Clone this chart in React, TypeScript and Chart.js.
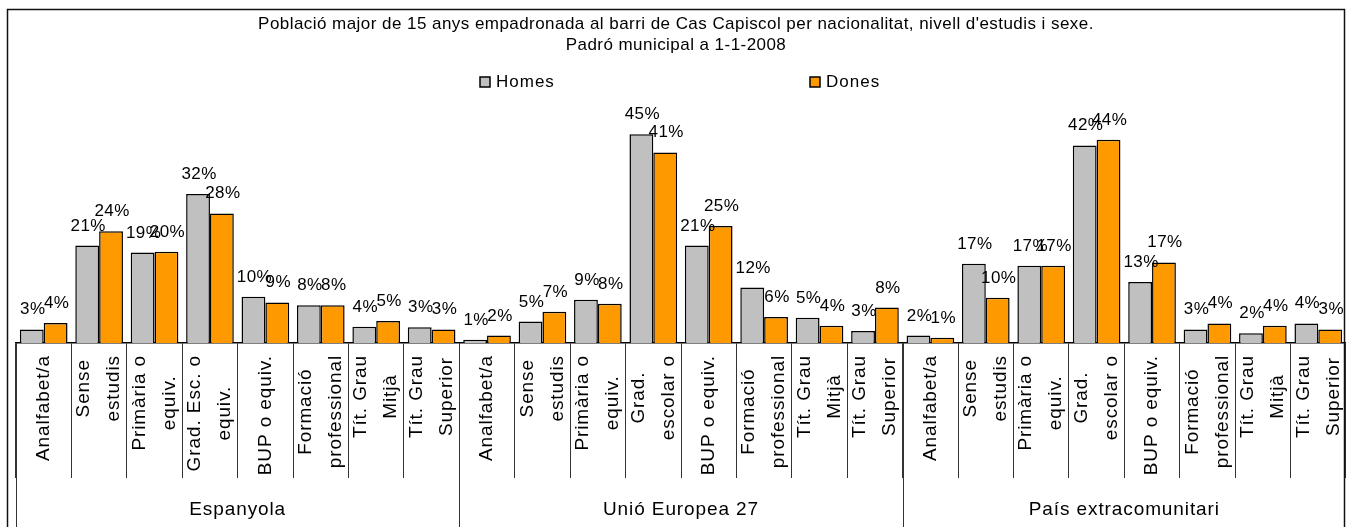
import React, { useEffect, useRef } from 'react';
import { Chart, registerables } from 'chart.js';

Chart.register(...registerables);

// ---- Data ----
const titleLines = [
  "Població major de 15 anys empadronada al barri de Cas Capiscol per nacionalitat, nivell d'estudis i sexe.",
  'Padró municipal a 1-1-2008',
];
const seriesNames = ['Homes', 'Dones'];
const groups = ['Espanyola', 'Unió Europea 27', 'País extracomunitari'];
const levelsEsp = [
  ['Analfabet/a'], ['Sense', 'estudis'], ['Primària o', 'equiv.'], ['Grad. Esc. o', 'equiv.'],
  ['BUP o equiv.'], ['Formació', 'professional'], ['Tít. Grau', 'Mitjà'], ['Tít. Grau', 'Superior'],
];
const levelsOther = [
  ['Analfabet/a'], ['Sense', 'estudis'], ['Primària o', 'equiv.'], ['Grad.', 'escolar o'],
  ['BUP o equiv.'], ['Formació', 'professional'], ['Tít. Grau', 'Mitjà'], ['Tít. Grau', 'Superior'],
];
const homesEsp = [2.9, 20.9, 19.4, 32.0, 9.9, 8.1, 3.5, 3.4];
const donesEsp = [4.3, 24.0, 19.6, 27.8, 8.7, 8.1, 4.7, 2.9];
const homesUE = [0.7, 4.6, 9.3, 44.8, 20.9, 11.9, 5.4, 2.6];
const donesUE = [1.6, 6.7, 8.4, 40.9, 25.1, 5.6, 3.7, 7.6];
const homesExt = [1.6, 17.0, 16.6, 42.4, 13.1, 2.9, 2.1, 4.2];
const donesExt = [1.1, 9.7, 16.6, 43.6, 17.3, 4.2, 3.7, 2.9];

const colors = ['#C0C0C0', '#FF9900'];
const FONT = '"Liberation Sans", Arial, sans-serif';

const allLevels = [...levelsEsp, ...levelsOther, ...levelsOther];
const homes = [...homesEsp, ...homesUE, ...homesExt];
const dones = [...donesEsp, ...donesUE, ...donesExt];
const groupSize = levelsEsp.length;

const decorPlugin = {
  id: 'decor',
  beforeDraw(chart: any) {
    const ctx = chart.ctx;
    ctx.save();
    ctx.fillStyle = '#fff';
    ctx.fillRect(0, 0, chart.width, chart.height);
    ctx.restore();
  },
  afterDatasetsDraw(chart: any) {
    const ctx = chart.ctx;
    ctx.save();
    ctx.font = '17px ' + FONT;
    (ctx as any).letterSpacing = '0.4px';
    ctx.fillStyle = '#000';
    ctx.textAlign = 'center';
    ctx.textBaseline = 'alphabetic';
    chart.data.datasets.forEach((ds: any, di: number) => {
      const meta = chart.getDatasetMeta(di);
      meta.data.forEach((bar: any, i: number) => {
        const v = ds.data[i];
        ctx.fillText(Math.round(v) + '%', bar.x + 1, bar.y - 15);
      });
    });
    ctx.restore();
  },
  afterDraw(chart: any) {
    const ctx = chart.ctx;
    const xs = chart.scales.x;
    const area = chart.chartArea;
    ctx.save();
    // frame
    ctx.strokeStyle = '#111';
    ctx.lineWidth = 1.5;
    ctx.strokeRect(7.5, 9.5, 1337, 700);

    // title
    ctx.fillStyle = '#000';
    ctx.textAlign = 'center';
    ctx.textBaseline = 'alphabetic';
    ctx.font = '17px ' + FONT;
    (ctx as any).letterSpacing = '0.45px';
    ctx.fillText(titleLines[0], 676, 29);
    ctx.fillText(titleLines[1], 676, 50);

    // legend
    const legendX = [480, 810];
    ctx.textAlign = 'left';
    (ctx as any).letterSpacing = '1px';
    seriesNames.forEach((name, i) => {
      ctx.fillStyle = colors[i];
      ctx.fillRect(legendX[i], 77, 10, 10);
      ctx.strokeStyle = '#000';
      ctx.lineWidth = 1.5;
      ctx.strokeRect(legendX[i], 77, 10, 10);
      ctx.fillStyle = '#000';
      ctx.fillText(name, legendX[i] + 16, 87);
    });

    // category labels (rotated)
    ctx.font = '19px ' + FONT;
    (ctx as any).letterSpacing = '0.9px';
    ctx.textAlign = 'center';
    ctx.textBaseline = 'middle';
    allLevels.forEach((lines, i) => {
      const cx = xs.getPixelForValue(i);
      const L = Math.max(...lines.map((t) => ctx.measureText(t).width));
      const cy = area.bottom + 12 + L / 2;
      lines.forEach((t, j) => {
        const lx = cx + (j - (lines.length - 1) / 2) * 30;
        ctx.save();
        ctx.translate(lx, cy);
        ctx.rotate(-Math.PI / 2);
        ctx.fillText(t, 0, 0);
        ctx.restore();
      });
    });

    // group separators and labels
    const boundary = (i: number) =>
      i === 0 ? area.left : i >= allLevels.length ? area.right
        : (xs.getPixelForValue(i - 1) + xs.getPixelForValue(i)) / 2;
    ctx.strokeStyle = '#333';
    ctx.lineWidth = 1;
    for (let g = 0; g < groups.length; g++) {
      const x = Math.round(boundary(g * groupSize)) + 0.5;
      ctx.beginPath();
      ctx.moveTo(x, area.bottom);
      ctx.lineTo(x, chart.height);
      ctx.stroke();
    }
    ctx.font = '19px ' + FONT;
    (ctx as any).letterSpacing = '0.9px';
    ctx.textBaseline = 'alphabetic';
    ctx.fillStyle = '#000';
    groups.forEach((g, gi) => {
      const x0 = boundary(gi * groupSize);
      const x1 = boundary((gi + 1) * groupSize);
      ctx.fillText(g, (x0 + x1) / 2, 515);
    });
    ctx.restore();
  },
};

export default function App() {
  const ref = useRef<HTMLCanvasElement | null>(null);
  useEffect(() => {
    if (!ref.current) return;
    const chart = new Chart(ref.current, {
      type: 'bar',
      data: {
        labels: allLevels.map((l) => l.join(' ')),
        datasets: [
          {
            label: seriesNames[0],
            data: homes,
            backgroundColor: colors[0],
            borderColor: '#000',
            borderWidth: 1.5,
            categoryPercentage: 0.86,
            barPercentage: 1,
          },
          {
            label: seriesNames[1],
            data: dones,
            backgroundColor: colors[1],
            borderColor: '#000',
            borderWidth: 1.5,
            categoryPercentage: 0.86,
            barPercentage: 1,
          },
        ],
      },
      options: {
        responsive: false,
        animation: false,
        devicePixelRatio: 1,
        layout: { padding: { left: 16, right: 0, top: 110, bottom: 49 } },
        plugins: {
          legend: { display: false },
          title: { display: false },
          tooltip: { enabled: false },
        },
        scales: {
          x: {
            grid: {
              display: true,
              offset: true,
              drawOnChartArea: false,
              drawTicks: true,
              tickLength: 135,
              color: '#333',
              lineWidth: 1,
            },
            border: { display: true, color: '#000', width: 1.5 },
            ticks: { display: false },
          },
          y: {
            display: false,
            min: 0,
            max: 50,
          },
        },
      },
      plugins: [decorPlugin],
    });
    return () => chart.destroy();
  }, []);
  return (
    <div style={{ position: 'absolute', left: 0, top: 0, width: 1346, height: 527 }}>
      <canvas ref={ref} width={1346} height={527} style={{ width: 1346, height: 527, display: 'block' }} />
    </div>
  );
}
